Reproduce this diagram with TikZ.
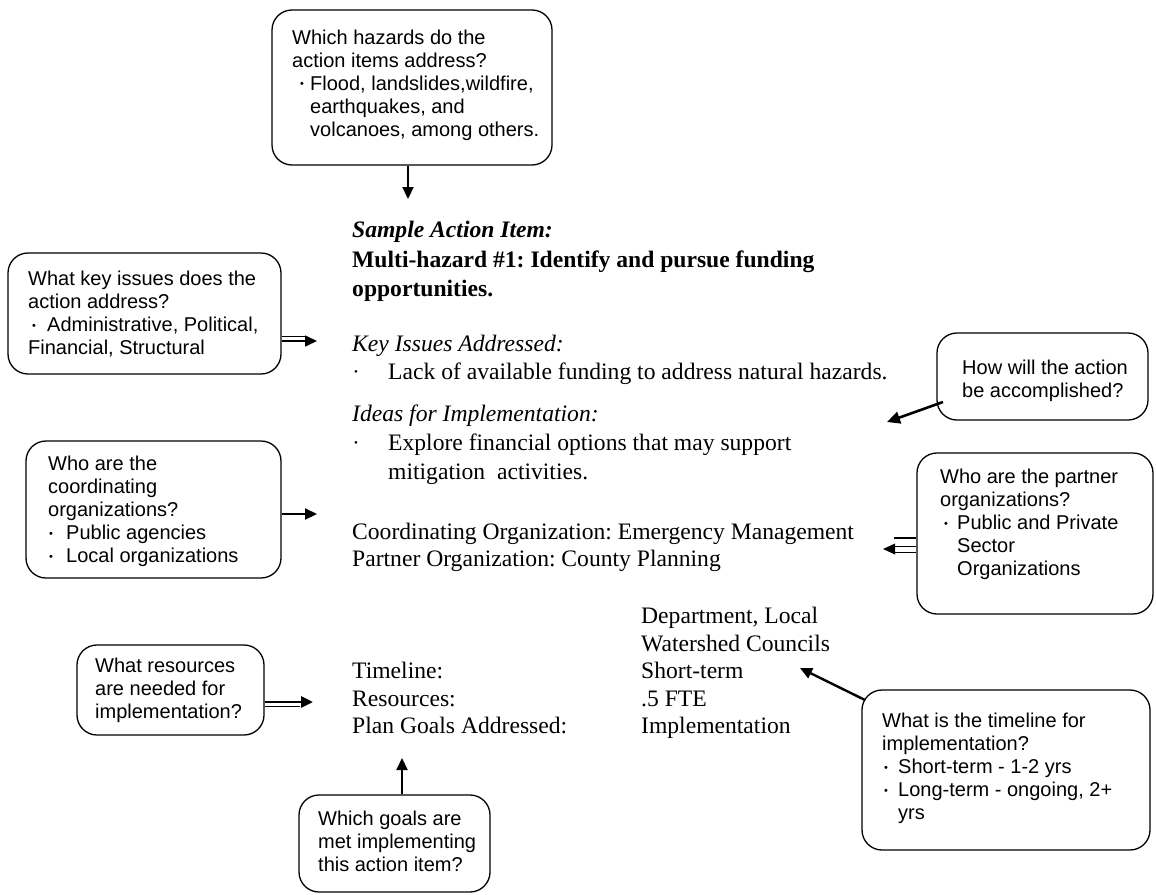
\documentclass[tikz,border=0pt]{standalone}
\usepackage{fontspec}
\setmainfont{Liberation Serif}
\newfontfamily\qsans{Liberation Sans}
\usetikzlibrary{arrows.meta}
\frenchspacing
\newcommand\qbul[2]{\makebox[#1][l]{\hspace*{#2}\raisebox{2.5pt}{\fontsize{11}{11}\selectfont\textbullet}}}
\newcommand\mbul{\makebox[36pt][l]{\hspace*{2pt}\raisebox{3.5pt}{\fontsize{11}{11}\selectfont\textbullet}}}
\begin{document}
\begin{tikzpicture}[x=1pt,y=-1pt,
  qbox/.style={draw, line width=1.3pt, rounded corners=20pt, inner sep=0pt},
  qtext/.style={anchor=north west, inner sep=0pt, align=left, font=\qsans\fontsize{20}{23}\selectfont},
  mtext/.style={anchor=base west, inner sep=0pt, font=\fontsize{23.6}{28}\selectfont},
  arr/.style={line width=2.2pt, -{Triangle[length=12pt,width=11pt]}},
  tip/.style={-{Triangle[length=12pt,width=11pt]}},
]
\useasboundingbox (0,0) rectangle (1156,894);

% question boxes
\node[qbox, minimum width=280pt, minimum height=155pt] (hz) at (412,87.5) {};
\node[qbox, minimum width=273pt, minimum height=121pt] (ki) at (144.5,313.5) {};
\node[qbox, minimum width=211pt, minimum height=87pt] (hw) at (1042.5,376.5) {};
\node[qbox, minimum width=255pt, minimum height=137pt] (co) at (153.5,509.5) {};
\node[qbox, minimum width=236pt, minimum height=161pt] (pa) at (1035,533.5) {};
\node[qbox, minimum width=187pt, minimum height=90pt] (re) at (170.5,690) {};
\node[qbox, minimum width=288pt, minimum height=160pt] (tl) at (1006,770) {};
\node[qbox, minimum width=191pt, minimum height=97pt] (go) at (394.5,843.5) {};

% question texts
\node[qtext] (hzt) at (292,29.4) {Which hazards do the\\action items address?\\\qbul{18pt}{8pt}Flood, landslides,wildfire,\\\hspace*{18pt}earthquakes, and\\\hspace*{18pt}volcanoes, among others.};
\node[qtext] (kit) at (28,271) {What key issues does the\\action address?\\\qbul{19pt}{4pt}Administrative, Political,\\Financial, Structural};
\node[qtext] (hwt) at (962,360) {How will the action\\be accomplished?};
\node[qtext] (cot) at (48,456) {Who are the\\coordinating\\organizations?\\\qbul{18pt}{1pt}Public agencies\\\qbul{18pt}{1pt}Local organizations};
\node[qtext] (pat) at (940,469) {Who are the partner\\organizations?\\\qbul{17pt}{4pt}Public and Private\\\hspace*{17pt}Sector\\\hspace*{17pt}Organizations};
\node[qtext] (ret) at (95,658) {What resources\\are needed for\\implementation?};
\node[qtext] (tlt) at (882,713) {What is the timeline for\\implementation?\\\qbul{16pt}{2pt}Short-term - 1-2 yrs\\\qbul{16pt}{2pt}Long-term - ongoing, 2+\\\hspace*{16pt}yrs};
\node[qtext] (got) at (318,811) {Which goals are\\met implementing\\this action item?};

% main serif text
\node[mtext] (m1) at (352,237) {\textbf{\textit{Sample Action Item:}}};
\node[mtext] (m2) at (352,267) {\textbf{Multi-hazard \#1: Identify and pursue funding}};
\node[mtext] (m3) at (352,296) {\textbf{opportunities.}};
\node[mtext] (m4) at (352,351) {\textit{Key Issues Addressed:}};
\node[mtext] (m5) at (352,379) {\mbul Lack of available funding to address natural hazards.};
\node[mtext] (m6) at (352,421) {\textit{Ideas for Implementation:}};
\node[mtext] (m7) at (352,450) {\mbul Explore financial options that may support};
\node[mtext] (m8) at (388,479) {mitigation\ \ activities.};
\node[mtext] (m9) at (352,539) {Coordinating Organization: Emergency Management};
\node[mtext] (m10) at (352,566) {Partner Organization: County Planning};
\node[mtext] (m11) at (641,623) {Department, Local};
\node[mtext] (m12) at (641,651) {Watershed Councils};
\node[mtext] (m13) at (352,678) {Timeline:};
\node[mtext] (m14) at (641,678) {Short-term};
\node[mtext] (m15) at (352,706) {Resources:};
\node[mtext] (m16) at (641,706) {.5 FTE};
\node[mtext] (m17) at (352,733) {Plan Goals Addressed:};
\node[mtext] (m18) at (641,733) {Implementation};

% arrow end points
\coordinate (hzE) at (408,199);
\coordinate (kiE) at (317,341);
\coordinate (kiU) at (305,336);
\coordinate (hwS) at (943,402);
\coordinate (hwE) at (887,422);
\coordinate (coE) at (317,514);
\coordinate (paE) at (883,549);
\coordinate (paA) at (895,546);
\coordinate (paB) at (895,552);
\coordinate (paC) at (894,538);
\coordinate (reE) at (313,702);
\coordinate (reL) at (300,706);
\coordinate (tlS) at (865,700);
\coordinate (tlE) at (800,668);
\coordinate (goE) at (402,758);

% connectors
\draw[arr] (hz.south -| hzE) -- (hzE);
\draw[line width=1.6pt, tip] (ki.east |- kiE) -- (kiE);
\draw[line width=0.8pt] (ki.east |- kiU) -- (kiU);
\draw[line width=2.6pt, -{Triangle[length=13pt,width=12pt]}] (hwS) -- (hwE);
\draw[arr] (co.east |- coE) -- (coE);
\draw[line width=2pt] (pa.west |- paC) -- (paC);
\draw[line width=0.9pt] (pa.west |- paA) -- (paA);
\draw[line width=0.9pt] (pa.west |- paB) -- (paB);
\fill (paE) -- ++(12,-5.5) -- ++(0,11) -- cycle;
\draw[line width=2.8pt, tip] (re.east |- reE) -- (reE);
\draw[line width=0.9pt] (re.east |- reL) -- (reL);
\draw[line width=2.4pt, tip] (tlS) -- (tlE);
\draw[arr] (go.north -| goE) -- (goE);
\end{tikzpicture}
\end{document}
